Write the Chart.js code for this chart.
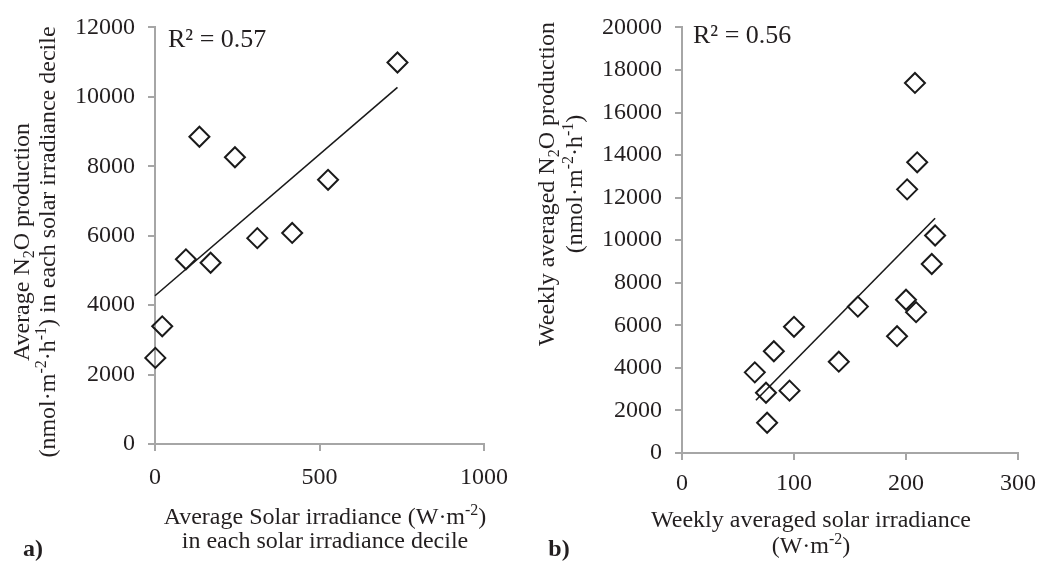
<!DOCTYPE html>
<html>
<head>
<meta charset="utf-8">
<script src="https://cdn.jsdelivr.net/npm/chart.js@4.4.1/dist/chart.umd.min.js"></script>
<style>
  html, body { margin: 0; padding: 0; background: #fff; }
  #wrap { position: relative; width: 1045px; height: 563px; }
  #graficoA { position: absolute; left: 0; top: 0; }
  #graficoB { position: absolute; left: 520px; top: 0; }
</style>
</head>
<body>
<div id="wrap">
  <canvas id="graficoA" width="520" height="563"></canvas>
  <canvas id="graficoB" width="525" height="563"></canvas>
</div>
<script>
// a) media por decil de irradiancia
const decilIrradiancia = [1, 22, 94, 135, 169, 243, 311, 417, 526, 737];
const decilN2O = [2480, 3390, 5320, 8850, 5220, 8260, 5930, 6080, 7610, 10990];
const tendenciaA_x = [0, 737];
const tendenciaA_y = [4270, 10270];
const ticksA_x = [0, 500, 1000];
const ticksA_y = [0, 2000, 4000, 6000, 8000, 10000, 12000];

// b) medias semanais
const semanaIrradiancia = [208, 210, 201, 226, 223, 200, 209, 157, 192, 100, 82, 140, 65, 75, 96, 76];
const semanaN2O = [17390, 13660, 12390, 10220, 8880, 7200, 6620, 6880, 5490, 5930, 4780, 4290, 3790, 2830, 2930, 1420];
const tendenciaB_x = [66, 226];
const tendenciaB_y = [2480, 11030];
const ticksB_x = [0, 100, 200, 300];
const ticksB_y = [0, 2000, 4000, 6000, 8000, 10000, 12000, 14000, 16000, 18000, 20000];

const COR_TEXTO = '#231f20';
const COR_EIXO = '#a6a6a6';
const FONTE = '"Liberation Serif", "Times New Roman", serif';
const TAM = 24;

function pares(xs, ys) {
    return xs.map((x, i) => ({ x: x, y: ys[i] }));
}

// desenha linhas de texto com sub/sobrescrito
function desenharRotulo(ctx, item) {
    const tam = item.tamanho || TAM;
    ctx.save();
    ctx.translate(item.x, item.y);
    if (item.girar) ctx.rotate(-Math.PI / 2);
    ctx.fillStyle = COR_TEXTO;
    ctx.textBaseline = 'alphabetic';
    ctx.textAlign = 'left';
    const n = item.linhas.length;
    item.linhas.forEach((linha, i) => {
        const partes = linha.map(p => typeof p === 'string' ? { t: p } : p);
        const fonte = p => (item.negrito ? 'bold ' : '') + ((p.sub || p.sup) ? Math.round(tam * 0.65) : tam) + 'px ' + FONTE;
        let largura = 0;
        partes.forEach(p => { ctx.font = fonte(p); p.w = ctx.measureText(p.t).width; largura += p.w; });
        let x = item.alinhar === 'left' ? 0 : -largura / 2;
        const base = (i - (n - 1) / 2) * (item.entrelinha || 0) + tam * 0.33;
        partes.forEach(p => {
            ctx.font = fonte(p);
            const dy = p.sub ? tam * 0.22 : (p.sup ? -tam * 0.36 : 0);
            ctx.fillText(p.t, x, base + dy);
            x += p.w;
        });
    });
    ctx.restore();
}

const pluginRotulos = {
    id: 'rotulos',
    afterDraw(chart, args, opts) {
        (opts.itens || []).forEach(item => desenharRotulo(chart.ctx, item));
    }
};

function eixo(min, max, ticks, tamanho, horizontal, padding) {
    return {
        type: 'linear',
        min: min,
        max: max,
        afterBuildTicks: s => { s.ticks = ticks.map(v => ({ value: v })); },
        afterFit: s => { if (horizontal) s.height = tamanho; else s.width = tamanho; },
        border: { color: COR_EIXO, width: 2 },
        grid: { drawOnChartArea: false, drawTicks: true, tickLength: 7, color: COR_EIXO, lineWidth: 2 },
        ticks: {
            color: COR_TEXTO,
            font: { family: FONTE, size: TAM },
            padding: padding,
            maxRotation: 0,
            autoSkip: false,
            callback: v => String(v)
        }
    };
}

function criarGrafico(canvas, pontos, tendencia, escalas, padding, rotulos) {
    return new Chart(canvas.getContext('2d'), {
        type: 'scatter',
        data: {
            datasets: [{
                type: 'line',
                data: tendencia,
                borderColor: '#1a1a1a',
                borderWidth: 1.6,
                pointRadius: 0,
                fill: false,
                clip: false
            }, {
                data: pontos,
                pointStyle: 'rectRot',
                pointRadius: 10,
                pointHoverRadius: 10,
                borderColor: '#1a1a1a',
                backgroundColor: 'rgba(255,255,255,0)',
                borderWidth: 2,
                clip: false
            }]
        },
        options: {
            responsive: false,
            animation: false,
            layout: { padding: padding },
            plugins: {
                legend: { display: false },
                tooltip: { enabled: false },
                rotulos: { itens: rotulos }
            },
            scales: escalas
        },
        plugins: [pluginRotulos]
    });
}

criarGrafico(
    document.getElementById('graficoA'),
    pares(decilIrradiancia, decilN2O),
    pares(tendenciaA_x, tendenciaA_y),
    {
        x: eixo(0, 1000, ticksA_x, 119, true, 12),
        y: eixo(0, 12000, ticksA_y, 155, false, 13)
    },
    { top: 25, right: 36, left: 0, bottom: 0 },
    [
        { x: 168, y: 38, alinhar: 'left', tamanho: 26, linhas: [['R² = 0.57']] },
        { x: 34, y: 242, girar: true, entrelinha: 26, linhas: [
            ['Average N', { t: '2', sub: true }, 'O production'],
            ['(nmol·m', { t: '-2', sup: true }, '·h', { t: '-1', sup: true }, ') in each solar irradiance decile']
        ] },
        { x: 325, y: 528, entrelinha: 24, linhas: [
            ['Average Solar irradiance (W·m', { t: '-2', sup: true }, ')'],
            ['in each solar irradiance decile']
        ] },
        { x: 33, y: 548, negrito: true, linhas: [['a)']] }
    ]
);

criarGrafico(
    document.getElementById('graficoB'),
    pares(semanaIrradiancia, semanaN2O),
    pares(tendenciaB_x, tendenciaB_y),
    {
        x: eixo(0, 300, ticksB_x, 110, true, 9),
        y: eixo(0, 20000, ticksB_y, 162, false, 13)
    },
    { top: 17, right: 27, left: 0, bottom: 0 },
    [
        { x: 173, y: 34, alinhar: 'left', tamanho: 26, linhas: [['R² = 0.56']] },
        { x: 40, y: 184, girar: true, entrelinha: 28, linhas: [
            ['Weekly averaged N', { t: '2', sub: true }, 'O production'],
            ['(nmol·m', { t: '-2', sup: true }, '·h', { t: '-1', sup: true }, ')']
        ] },
        { x: 291, y: 532, entrelinha: 26, linhas: [
            ['Weekly averaged solar irradiance'],
            ['(W·m', { t: '-2', sup: true }, ')']
        ] },
        { x: 39, y: 548, negrito: true, linhas: [['b)']] }
    ]
);
</script>
</body>
</html>
